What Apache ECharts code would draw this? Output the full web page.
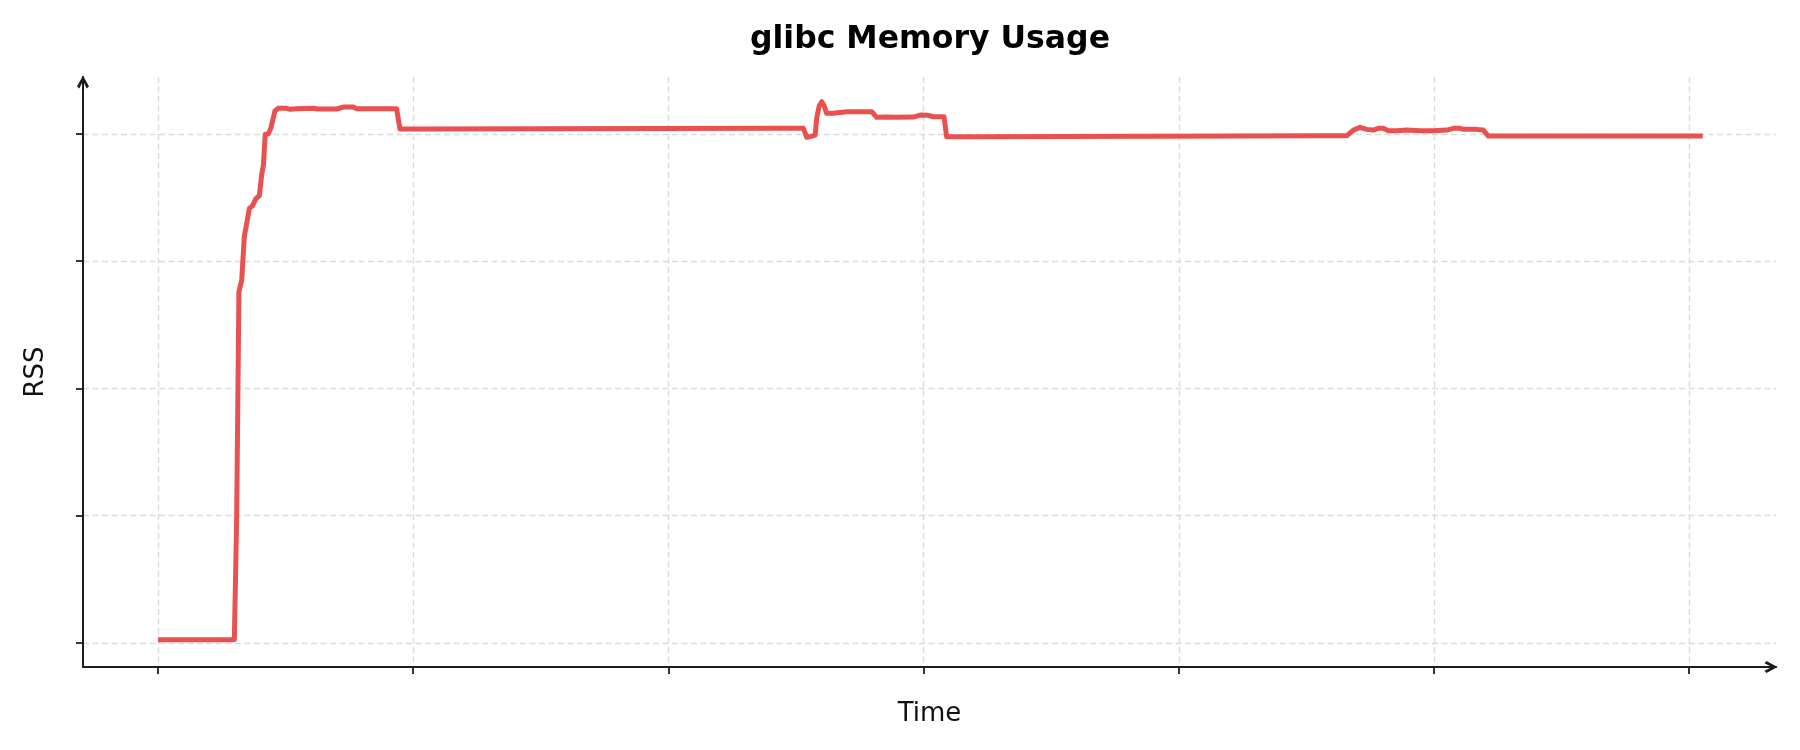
<!DOCTYPE html>
<html>
<head>
<meta charset="utf-8">
<title>glibc Memory Usage</title>
<script src="https://cdn.jsdelivr.net/npm/echarts@6/dist/echarts.min.js"></script>
<style>
  html, body { margin: 0; padding: 0; background: #fff; }
  #chart { width: 1800px; height: 750px; }
</style>
</head>
<body>
<div id="chart"></div>
<script>
"use strict";
const FONT = "DejaVu Sans";
const COLORS = { line: "#e8514f", axis: "#1e1e1e", grid: "#dcdcdc", text: "#111" };

// ---- data (axis has no tick labels) ----
const timeSec = [0, 2.99, 3.08, 3.17, 3.28, 3.38, 3.58, 3.70, 3.84, 3.97,
  4.06, 4.13, 4.20, 4.32, 4.42, 4.58, 4.71, 5.04, 5.17, 5.43,
  6.09, 6.22, 7.00, 7.26, 7.65, 7.79, 9.35, 9.42, 9.48, 10.27,
  24.37, 25.29, 25.42, 25.62, 25.75, 25.81, 25.91, 26.01, 26.10, 26.20,
  26.46, 26.99, 27.97, 28.16, 28.55, 28.88, 29.60, 29.86, 30.18, 30.38,
  30.80, 30.90, 32.21, 45.53, 46.58, 46.84, 47.10, 47.36, 47.62, 47.82,
  48.01, 48.21, 48.54, 48.93, 49.45, 49.97, 50.50, 50.76, 51.02, 51.15,
  51.67, 51.93, 52.13, 60.53];
const rssMB = [0.53, 0.53, 19.29, 55.19, 57.03, 63.84, 68.30, 68.71, 69.87, 70.28,
  73.54, 75.11, 79.94, 79.98, 80.88, 83.60, 84.03, 84.03, 83.87, 83.96,
  84.03, 83.92, 83.92, 84.23, 84.23, 83.96, 83.96, 83.76, 80.77, 80.77,
  80.88, 80.88, 79.47, 79.67, 79.83, 82.45, 84.43, 85.06, 84.43, 83.24,
  83.24, 83.49, 83.49, 82.61, 82.66, 82.61, 82.66, 82.97, 82.92, 82.70,
  82.70, 79.56, 79.56, 79.72, 79.72, 80.61, 81.04, 80.72, 80.61, 80.88,
  80.88, 80.50, 80.50, 80.61, 80.50, 80.50, 80.61, 80.88, 80.88, 80.72,
  80.72, 80.61, 79.67, 79.67];
const xTicks = [0, 10, 20, 30, 40, 50, 60];
const yTicks = [0, 20, 40, 60, 80];

// open chevron arrow head, drawn pointing up (echarts rotates it per axis)
const ARROW = "path://M6,0 L12,11 L9.7,13 L6,5.6 L2.3,13 L0,11 Z";

function axisCommon(ticks) {
  return {
    type: "value",
    axisLine: { show: true, onZero: false, symbol: ["none", ARROW],
      symbolSize: [12, 14], symbolOffset: [0, -5],
      lineStyle: { color: COLORS.axis, width: 2 } },
    axisTick: { show: true, customValues: ticks, length: 7,
      lineStyle: { color: COLORS.axis, width: 1.8 } },
    axisLabel: { show: false, customValues: ticks },
    splitLine: { show: true, lineStyle: { color: COLORS.grid, width: 1.4, type: [6, 3.5] } },
    nameLocation: "middle",
    nameTextStyle: { fontFamily: FONT, fontSize: 26, color: COLORS.text },
  };
}

const chart = echarts.init(document.getElementById("chart"), null, { renderer: "canvas" });
chart.setOption({
  animation: false,
  backgroundColor: "#fff",
  title: { text: "glibc Memory Usage", left: 925, top: 19, textAlign: "center",
    textStyle: { fontFamily: FONT, fontSize: 31.5, fontWeight: "bold", color: "#000" } },
  grid: { left: 83, right: 24, top: 77, bottom: 83, containLabel: false, outerBoundsMode: "none" },
  xAxis: Object.assign(axisCommon(xTicks), { min: -2.94, max: 63.40, name: "Time", nameGap: 34 }),
  yAxis: Object.assign(axisCommon(yTicks), { min: -3.77, max: 88.95, name: "RSS", nameGap: 34 }),
  series: [{
    type: "line", name: "glibc",
    data: timeSec.map((t, i) => [t, rssMB[i]]),
    showSymbol: false, symbol: "none", smooth: false,
    lineStyle: { color: COLORS.line, width: 5, join: "round", cap: "butt" },
    itemStyle: { color: COLORS.line },
    z: 5,
  }],
});
window.addEventListener("resize", () => chart.resize());
</script>
</body>
</html>
